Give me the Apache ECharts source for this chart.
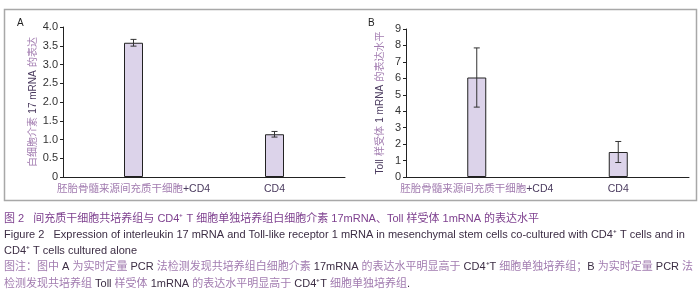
<!DOCTYPE html>
<html>
<head>
<meta charset="utf-8">
<script src="https://cdn.jsdelivr.net/npm/echarts@6/dist/echarts.min.js"></script>
<style>
    html, body { margin: 0; padding: 0; background: #fff; }
    #chart { width: 700px; height: 295px; }
</style>
</head>
<body>
<div id="chart"></div>
<script>
    // 数据
    const categories = ['胚胎骨髓来源间充质干细胞+CD4', 'CD4'];
    const il17Values = [3.58, 1.14];
    const il17Errors = [0.09, 0.075];
    const tlr1Values = [6.05, 1.52];
    const tlr1Errors = [1.8, 0.64];

    const captionLines = [
        '图 2   间充质干细胞共培养组与 CD4⁺ T 细胞单独培养组白细胞介素 17mRNA、Toll 样受体 1mRNA 的表达水平',
        'Figure 2   Expression of interleukin 17 mRNA and Toll-like receptor 1 mRNA in mesenchymal stem cells co-cultured with CD4⁺ T cells and in',
        'CD4⁺ T cells cultured alone',
        '{c|图注：图中} A {c|为实时定量} PCR {c|法检测发现共培养组白细胞介素} 17mRNA {c|的表达水平明显高于} CD4⁺T {c|细胞单独培养组；}B {c|为实时定量} PCR {c|法}',
        '{c|检测发现共培养组} Toll {c|样受体} 1mRNA {c|的表达水平明显高于} CD4⁺T {c|细胞单独培养组}.'
    ];

    const FONT = '"Liberation Sans", Arial, "Noto Sans CJK SC", sans-serif';
    const PURPLE = '#a27cb0';
    const DARK = '#3c2d44';

    let myChart = echarts.init(document.getElementById('chart'));

    function catLabel(v) {
        if (v.indexOf('+') > 0) {
            let i = v.indexOf('+');
            return '{c|' + v.slice(0, i) + '}{d|' + v.slice(i) + '}';
        }
        return '{d|' + v + '}';
    }

    function errItem(params, api) {
        let x = api.value(0);
        let top = api.coord([x, api.value(2)]);
        let bot = api.coord([x, api.value(1)]);
        let cap = 3;
        let st = { stroke: '#333', lineWidth: 1 };
        return {
            type: 'group',
            children: [
                { type: 'line', shape: { x1: top[0], y1: top[1], x2: bot[0], y2: bot[1] }, style: st },
                { type: 'line', shape: { x1: top[0] - cap, y1: top[1], x2: top[0] + cap, y2: top[1] }, style: st },
                { type: 'line', shape: { x1: bot[0] - cap, y1: bot[1], x2: bot[0] + cap, y2: bot[1] }, style: st }
            ]
        };
    }

    function errData(values, errs) {
        return values.map((v, i) => [i, v - errs[i], v + errs[i]]);
    }

    let xAxisBase = {
        type: 'category',
        data: categories,
        axisLine: { lineStyle: { color: '#222', width: 1 } },
        axisTick: { inside: true, length: 4, lineStyle: { color: '#222' } },
        axisLabel: {
            margin: 7,
            interval: 0,
            hideOverlap: false,
            formatter: catLabel,
            rich: {
                c: { color: PURPLE, fontSize: 10.5, fontFamily: FONT },
                d: { color: '#4a3a5e', fontSize: 10.5, fontFamily: FONT }
            }
        }
    };

    let yAxisBase = {
        type: 'value',
        nameLocation: 'middle',
        nameRotate: 90,
        axisLine: { show: true, lineStyle: { color: '#222', width: 1 } },
        axisTick: { show: true, length: 3, lineStyle: { color: '#222' } },
        splitLine: { show: false },
        axisLabel: { color: '#333', fontSize: 11, fontFamily: FONT, margin: 5 },
        nameTextStyle: {
            rich: {
                c: { color: PURPLE, fontSize: 10, fontFamily: FONT },
                d: { color: '#4a3a5e', fontSize: 10, fontFamily: FONT }
            }
        }
    };

    let barStyle = { color: '#dcd3ea', borderColor: '#222', borderWidth: 1 };

    let graphics = [
        { type: 'rect', shape: { x: 4.5, y: 9.5, width: 692, height: 191 }, style: { fill: 'none', stroke: '#a8a8a8', lineWidth: 1.5 }, silent: true },
        { type: 'text', x: 17, y: 18, style: { text: 'A', font: '10px ' + FONT, fill: '#222' } },
        { type: 'text', x: 368, y: 18, style: { text: 'B', font: '10px ' + FONT, fill: '#222' } }
    ];
    let captionY = [212, 228, 244, 260, 277];
    let captionFill = ['#7d3f8e', DARK, DARK, DARK, DARK];
    captionLines.forEach((t, i) => {
        graphics.push({
            type: 'text', x: 4, y: captionY[i] + 1,
            style: {
                text: t, font: '11px ' + FONT, fill: captionFill[i],
                rich: { c: { fill: PURPLE, font: '11px ' + FONT } }
            }
        });
    });

    let option = {
        animation: false,
        grid: [
            { left: 63, top: 27, width: 282, height: 150 },
            { left: 406, top: 29, width: 283, height: 148 }
        ],
        xAxis: [
            Object.assign({}, xAxisBase, { gridIndex: 0 }),
            Object.assign({}, xAxisBase, { gridIndex: 1 })
        ],
        yAxis: [
            Object.assign({}, yAxisBase, {
                gridIndex: 0, min: 0, max: 4, interval: 0.5,
                name: '{c|白细胞介素} {d|17 mRNA} {c|的表达}', nameGap: 21,
                axisLabel: Object.assign({}, yAxisBase.axisLabel, {
                    formatter: v => v === 0 ? '0' : v.toFixed(1)
                })
            }),
            Object.assign({}, yAxisBase, {
                gridIndex: 1, min: 0, max: 9, interval: 1,
                name: '{d|Toll} {c|样受体} {d|1 mRNA} {c|的表达水平}', nameGap: 20
            })
        ],
        series: [
            { type: 'bar', xAxisIndex: 0, yAxisIndex: 0, data: il17Values, barWidth: 19, itemStyle: barStyle },
            { type: 'custom', xAxisIndex: 0, yAxisIndex: 0, data: errData(il17Values, il17Errors), renderItem: errItem, z: 5 },
            { type: 'bar', xAxisIndex: 1, yAxisIndex: 1, data: tlr1Values, barWidth: 19, itemStyle: barStyle },
            { type: 'custom', xAxisIndex: 1, yAxisIndex: 1, data: errData(tlr1Values, tlr1Errors), renderItem: errItem, z: 5 }
        ],
        graphic: graphics
    };

    myChart.setOption(option);
</script>
</body>
</html>
